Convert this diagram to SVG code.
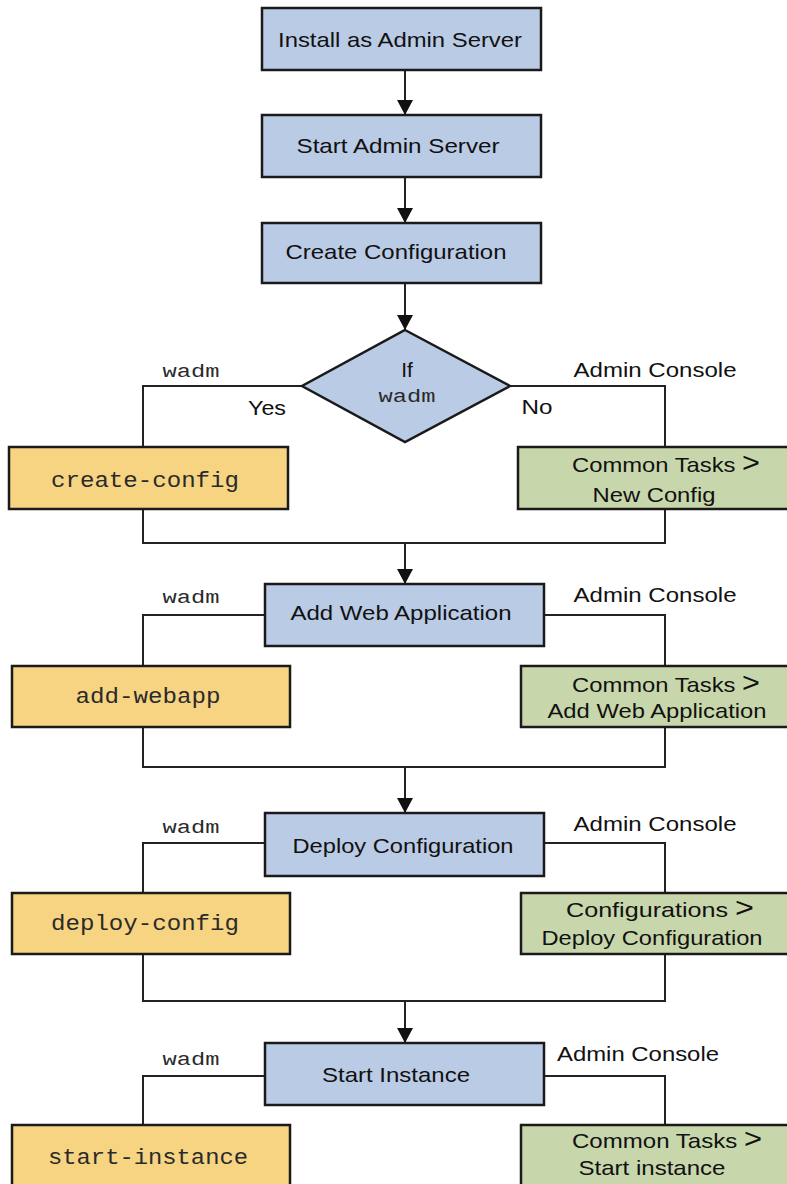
<svg xmlns="http://www.w3.org/2000/svg" width="787" height="1184" viewBox="0 0 787 1184">
<style>
.blue{fill:#bacbe5;stroke:#1a1a1a;stroke-width:2.5}
.yel{fill:#f6d482;stroke:#1a1a1a;stroke-width:2.5}
.grn{fill:#c8d7ab;stroke:#1a1a1a;stroke-width:2.5}
.ln{fill:none;stroke:#222;stroke-width:2}
.sans{font-family:"Liberation Sans",Arial,Helvetica,sans-serif;font-size:21px;fill:#111}
.mono{font-family:"Liberation Mono","Courier New",monospace;font-size:22px;fill:#2a2a2a}
.lbl{font-family:"Liberation Mono","Courier New",monospace;font-size:19px;fill:#2a2a2a}
.gt{font-size:27px}
</style>
<defs>
<marker id="ah" markerUnits="userSpaceOnUse" markerWidth="15" markerHeight="16" refX="15" refY="8" orient="auto" viewBox="0 0 15 16">
<path d="M0,0 L15,8 L0,16 Z" fill="#111"/>
</marker>
</defs>
<g id="connectors">
<line class="ln" x1="405" y1="70" x2="405" y2="115" marker-end="url(#ah)"/>
<line class="ln" x1="405" y1="177" x2="405" y2="223" marker-end="url(#ah)"/>
<line class="ln" x1="405" y1="283" x2="405" y2="330" marker-end="url(#ah)"/>
<polyline class="ln" points="302,386 143,386 143,447"/>
<polyline class="ln" points="510,386 665,386 665,447"/>
<polyline class="ln" points="143,509 143,543 665,543 665,509"/>
<line class="ln" x1="405" y1="543" x2="405" y2="584" marker-end="url(#ah)"/>
<polyline class="ln" points="265,615 143,615 143,666"/>
<polyline class="ln" points="544,615 665,615 665,666"/>
<polyline class="ln" points="143,727 143,767 665,767 665,727"/>
<line class="ln" x1="405" y1="767" x2="405" y2="813" marker-end="url(#ah)"/>
<polyline class="ln" points="265,843 143,843 143,893"/>
<polyline class="ln" points="544,843 665,843 665,893"/>
<polyline class="ln" points="143,954 143,1001 665,1001 665,954"/>
<line class="ln" x1="405" y1="1001" x2="405" y2="1043" marker-end="url(#ah)"/>
<polyline class="ln" points="265,1076 143,1076 143,1125"/>
<polyline class="ln" points="544,1076 665,1076 665,1125"/>
</g>
<g id="install">
<rect class="blue" x="262" y="8" width="279" height="62"/>
<text class="sans" x="400" y="47" text-anchor="middle" textLength="244" lengthAdjust="spacingAndGlyphs">Install as Admin Server</text>
</g>
<g id="start-admin">
<rect class="blue" x="262" y="115" width="279" height="62"/>
<text class="sans" x="398" y="153" text-anchor="middle" textLength="203" lengthAdjust="spacingAndGlyphs">Start Admin Server</text>
</g>
<g id="create-configuration">
<rect class="blue" x="262" y="223" width="279" height="60"/>
<text class="sans" x="396" y="259" text-anchor="middle" textLength="221" lengthAdjust="spacingAndGlyphs">Create Configuration</text>
</g>
<g id="decision">
<polygon class="blue" points="405,330 510,386 405,442 302,386"/>
<text class="sans" x="407" y="377" text-anchor="middle">If</text>
<text class="lbl" x="407" y="402" text-anchor="middle" textLength="57" lengthAdjust="spacingAndGlyphs">wadm</text>
</g>
<g id="labels-1">
<text class="lbl" x="191" y="377" text-anchor="middle" textLength="57" lengthAdjust="spacingAndGlyphs">wadm</text>
<text class="sans" x="267" y="415" text-anchor="middle" textLength="38" lengthAdjust="spacingAndGlyphs">Yes</text>
<text class="sans" x="537" y="414" text-anchor="middle" textLength="31" lengthAdjust="spacingAndGlyphs">No</text>
<text class="sans" x="655" y="377" text-anchor="middle" textLength="163" lengthAdjust="spacingAndGlyphs">Admin Console</text>
</g>
<g id="create-config">
<rect class="yel" x="9" y="447" width="279" height="62"/>
<text class="mono" x="145" y="487" text-anchor="middle" textLength="188" lengthAdjust="spacingAndGlyphs">create-config</text>
</g>
<g id="new-config">
<rect class="grn" x="518" y="447" width="290" height="62"/>
<text class="sans" x="572" y="472" textLength="188" lengthAdjust="spacingAndGlyphs">Common Tasks <tspan class="gt">&gt;</tspan></text>
<text class="sans" x="654" y="502" text-anchor="middle" textLength="123" lengthAdjust="spacingAndGlyphs">New Config</text>
</g>
<g id="add-web-application">
<rect class="blue" x="265" y="584" width="279" height="62"/>
<text class="sans" x="401" y="620" text-anchor="middle" textLength="221" lengthAdjust="spacingAndGlyphs">Add Web Application</text>
</g>
<g id="labels-2">
<text class="lbl" x="191" y="603" text-anchor="middle" textLength="57" lengthAdjust="spacingAndGlyphs">wadm</text>
<text class="sans" x="655" y="602" text-anchor="middle" textLength="163" lengthAdjust="spacingAndGlyphs">Admin Console</text>
</g>
<g id="add-webapp">
<rect class="yel" x="12" y="666" width="278" height="61"/>
<text class="mono" x="148" y="703" text-anchor="middle" textLength="145" lengthAdjust="spacingAndGlyphs">add-webapp</text>
</g>
<g id="ct-add-web-application">
<rect class="grn" x="521" y="666" width="290" height="61"/>
<text class="sans" x="572" y="692" textLength="188" lengthAdjust="spacingAndGlyphs">Common Tasks <tspan class="gt">&gt;</tspan></text>
<text class="sans" x="657" y="718" text-anchor="middle" textLength="219" lengthAdjust="spacingAndGlyphs">Add Web Application</text>
</g>
<g id="deploy-configuration">
<rect class="blue" x="265" y="813" width="279" height="63"/>
<text class="sans" x="403" y="853" text-anchor="middle" textLength="221" lengthAdjust="spacingAndGlyphs">Deploy Configuration</text>
</g>
<g id="labels-3">
<text class="lbl" x="191" y="833" text-anchor="middle" textLength="57" lengthAdjust="spacingAndGlyphs">wadm</text>
<text class="sans" x="655" y="831" text-anchor="middle" textLength="163" lengthAdjust="spacingAndGlyphs">Admin Console</text>
</g>
<g id="deploy-config">
<rect class="yel" x="12" y="893" width="278" height="61"/>
<text class="mono" x="145" y="930" text-anchor="middle" textLength="188" lengthAdjust="spacingAndGlyphs">deploy-config</text>
</g>
<g id="cfg-deploy-configuration">
<rect class="grn" x="521" y="893" width="290" height="61"/>
<text class="sans" x="566" y="917" textLength="188" lengthAdjust="spacingAndGlyphs">Configurations  <tspan class="gt">&gt;</tspan></text>
<text class="sans" x="652" y="945" text-anchor="middle" textLength="221" lengthAdjust="spacingAndGlyphs">Deploy Configuration</text>
</g>
<g id="start-instance-step">
<rect class="blue" x="265" y="1043" width="279" height="62"/>
<text class="sans" x="396" y="1082" text-anchor="middle" textLength="148" lengthAdjust="spacingAndGlyphs">Start Instance</text>
</g>
<g id="labels-4">
<text class="lbl" x="191" y="1065" text-anchor="middle" textLength="57" lengthAdjust="spacingAndGlyphs">wadm</text>
<text class="sans" x="638" y="1061" text-anchor="middle" textLength="162" lengthAdjust="spacingAndGlyphs">Admin Console</text>
</g>
<g id="start-instance">
<rect class="yel" x="12" y="1125" width="278" height="80"/>
<text class="mono" x="148" y="1164" text-anchor="middle" textLength="200" lengthAdjust="spacingAndGlyphs">start-instance</text>
</g>
<g id="ct-start-instance">
<rect class="grn" x="521" y="1125" width="290" height="80"/>
<text class="sans" x="572" y="1148" textLength="190" lengthAdjust="spacingAndGlyphs">Common Tasks <tspan class="gt">&gt;</tspan></text>
<text class="sans" x="652" y="1175" text-anchor="middle" textLength="147" lengthAdjust="spacingAndGlyphs">Start instance</text>
</g>
</svg>
